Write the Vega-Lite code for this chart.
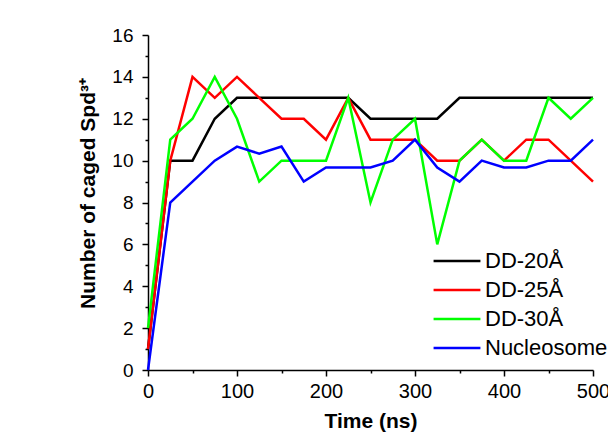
{
  "$schema": "https://vega.github.io/schema/vega-lite/v6.json",
  "width": 445,
  "height": 335,
  "autosize": {"type": "none"},
  "padding": {"left": 148, "top": 35, "right": 15, "bottom": 62},
  "background": "white",
  "config": {
    "view": {"stroke": null},
    "font": "Liberation Sans",
    "axis": {
      "domainColor": "black",
      "domainWidth": 1.5,
      "tickColor": "black",
      "tickWidth": 1.5,
      "grid": false,
      "labelFlush": false,
      "labelOverlap": false,
      "labelColor": "black",
      "titleColor": "black",
      "labelFont": "Liberation Sans",
      "titleFont": "Liberation Sans"
    }
  },
  "data": {
    "values": [
      {"t": 0, "n": 1, "s": "DD-20Å"}, {"t": 25, "n": 10, "s": "DD-20Å"}, {"t": 50, "n": 10, "s": "DD-20Å"}, {"t": 75, "n": 12, "s": "DD-20Å"}, {"t": 100, "n": 13, "s": "DD-20Å"}, {"t": 125, "n": 13, "s": "DD-20Å"}, {"t": 150, "n": 13, "s": "DD-20Å"}, {"t": 175, "n": 13, "s": "DD-20Å"}, {"t": 200, "n": 13, "s": "DD-20Å"}, {"t": 225, "n": 13, "s": "DD-20Å"}, {"t": 250, "n": 12, "s": "DD-20Å"}, {"t": 275, "n": 12, "s": "DD-20Å"}, {"t": 300, "n": 12, "s": "DD-20Å"}, {"t": 325, "n": 12, "s": "DD-20Å"}, {"t": 350, "n": 13, "s": "DD-20Å"}, {"t": 375, "n": 13, "s": "DD-20Å"}, {"t": 400, "n": 13, "s": "DD-20Å"}, {"t": 425, "n": 13, "s": "DD-20Å"}, {"t": 450, "n": 13, "s": "DD-20Å"}, {"t": 475, "n": 13, "s": "DD-20Å"}, {"t": 500, "n": 13, "s": "DD-20Å"},
      {"t": 0, "n": 1, "s": "DD-25Å"}, {"t": 25, "n": 10, "s": "DD-25Å"}, {"t": 50, "n": 14, "s": "DD-25Å"}, {"t": 75, "n": 13, "s": "DD-25Å"}, {"t": 100, "n": 14, "s": "DD-25Å"}, {"t": 125, "n": 13, "s": "DD-25Å"}, {"t": 150, "n": 12, "s": "DD-25Å"}, {"t": 175, "n": 12, "s": "DD-25Å"}, {"t": 200, "n": 11, "s": "DD-25Å"}, {"t": 225, "n": 13, "s": "DD-25Å"}, {"t": 250, "n": 11, "s": "DD-25Å"}, {"t": 275, "n": 11, "s": "DD-25Å"}, {"t": 300, "n": 11, "s": "DD-25Å"}, {"t": 325, "n": 10, "s": "DD-25Å"}, {"t": 350, "n": 10, "s": "DD-25Å"}, {"t": 375, "n": 11, "s": "DD-25Å"}, {"t": 400, "n": 10, "s": "DD-25Å"}, {"t": 425, "n": 11, "s": "DD-25Å"}, {"t": 450, "n": 11, "s": "DD-25Å"}, {"t": 475, "n": 10, "s": "DD-25Å"}, {"t": 500, "n": 9, "s": "DD-25Å"},
      {"t": 0, "n": 2, "s": "DD-30Å"}, {"t": 25, "n": 11, "s": "DD-30Å"}, {"t": 50, "n": 12, "s": "DD-30Å"}, {"t": 75, "n": 14, "s": "DD-30Å"}, {"t": 100, "n": 12, "s": "DD-30Å"}, {"t": 125, "n": 9, "s": "DD-30Å"}, {"t": 150, "n": 10, "s": "DD-30Å"}, {"t": 175, "n": 10, "s": "DD-30Å"}, {"t": 200, "n": 10, "s": "DD-30Å"}, {"t": 225, "n": 13, "s": "DD-30Å"}, {"t": 250, "n": 8, "s": "DD-30Å"}, {"t": 275, "n": 11, "s": "DD-30Å"}, {"t": 300, "n": 12, "s": "DD-30Å"}, {"t": 325, "n": 6, "s": "DD-30Å"}, {"t": 350, "n": 10, "s": "DD-30Å"}, {"t": 375, "n": 11, "s": "DD-30Å"}, {"t": 400, "n": 10, "s": "DD-30Å"}, {"t": 425, "n": 10, "s": "DD-30Å"}, {"t": 450, "n": 13, "s": "DD-30Å"}, {"t": 475, "n": 12, "s": "DD-30Å"}, {"t": 500, "n": 13, "s": "DD-30Å"},
      {"t": 0, "n": 0, "s": "Nucleosome"}, {"t": 25, "n": 8, "s": "Nucleosome"}, {"t": 50, "n": 9, "s": "Nucleosome"}, {"t": 75, "n": 10, "s": "Nucleosome"}, {"t": 100, "n": 10.67, "s": "Nucleosome"}, {"t": 125, "n": 10.33, "s": "Nucleosome"}, {"t": 150, "n": 10.67, "s": "Nucleosome"}, {"t": 175, "n": 9, "s": "Nucleosome"}, {"t": 200, "n": 9.67, "s": "Nucleosome"}, {"t": 225, "n": 9.67, "s": "Nucleosome"}, {"t": 250, "n": 9.67, "s": "Nucleosome"}, {"t": 275, "n": 10, "s": "Nucleosome"}, {"t": 300, "n": 11, "s": "Nucleosome"}, {"t": 325, "n": 9.67, "s": "Nucleosome"}, {"t": 350, "n": 9, "s": "Nucleosome"}, {"t": 375, "n": 10, "s": "Nucleosome"}, {"t": 400, "n": 9.67, "s": "Nucleosome"}, {"t": 425, "n": 9.67, "s": "Nucleosome"}, {"t": 450, "n": 10, "s": "Nucleosome"}, {"t": 475, "n": 10, "s": "Nucleosome"}, {"t": 500, "n": 11, "s": "Nucleosome"}
    ]
  },
  "layer": [
    {
      "mark": {"type": "line", "strokeWidth": 2.5, "strokeJoin": "miter"},
      "encoding": {
        "x": {
          "field": "t", "type": "quantitative",
          "scale": {"domain": [0, 500], "nice": false},
          "axis": {"orient": "bottom", "values": [0, 100, 200, 300, 400, 500], "tickSize": 6, "labelFontSize": 20, "labelPadding": 5, "title": "Time (ns)", "titleFontSize": 21, "titleFontWeight": "bold", "titlePadding": 9}
        },
        "y": {
          "field": "n", "type": "quantitative",
          "scale": {"domain": [0, 16], "nice": false},
          "axis": {"orient": "left", "values": [0, 2, 4, 6, 8, 10, 12, 14, 16], "tickSize": 6, "labelFontSize": 19, "labelPadding": 9, "title": "Number of caged Spd³⁺", "titleFontSize": 21, "titleFontWeight": "bold", "titlePadding": 13, "titleY": 158}
        },
        "color": {
          "field": "s", "type": "nominal",
          "scale": {"domain": ["DD-20Å", "DD-25Å", "DD-30Å", "Nucleosome"], "range": ["#000000", "#ff0000", "#00ff00", "#0000ff"]},
          "legend": {
            "orient": "none", "legendX": 291, "legendY": 208, "title": null,
            "symbolType": "M-1.42,0H1.42", "symbolSize": 1089, "symbolStrokeWidth": 2.5, "symbolFillColor": "transparent",
            "labelFontSize": 22, "labelFont": "Liberation Sans", "labelColor": "black",
            "labelOffset": 10, "rowPadding": 0
          }
        }
      }
    },
    {
      "mark": {"type": "point", "opacity": 0},
      "encoding": {
        "x": {
          "field": "t", "type": "quantitative",
          "axis": {"orient": "bottom", "values": [50, 150, 250, 350, 450], "tickSize": 3, "labels": false, "domain": false, "title": null}
        },
        "y": {
          "field": "n", "type": "quantitative",
          "axis": {"orient": "left", "values": [1, 3, 5, 7, 9, 11, 13, 15], "tickSize": 3, "labels": false, "domain": false, "title": null}
        }
      }
    }
  ],
  "resolve": {"axis": {"x": "independent", "y": "independent"}}
}
